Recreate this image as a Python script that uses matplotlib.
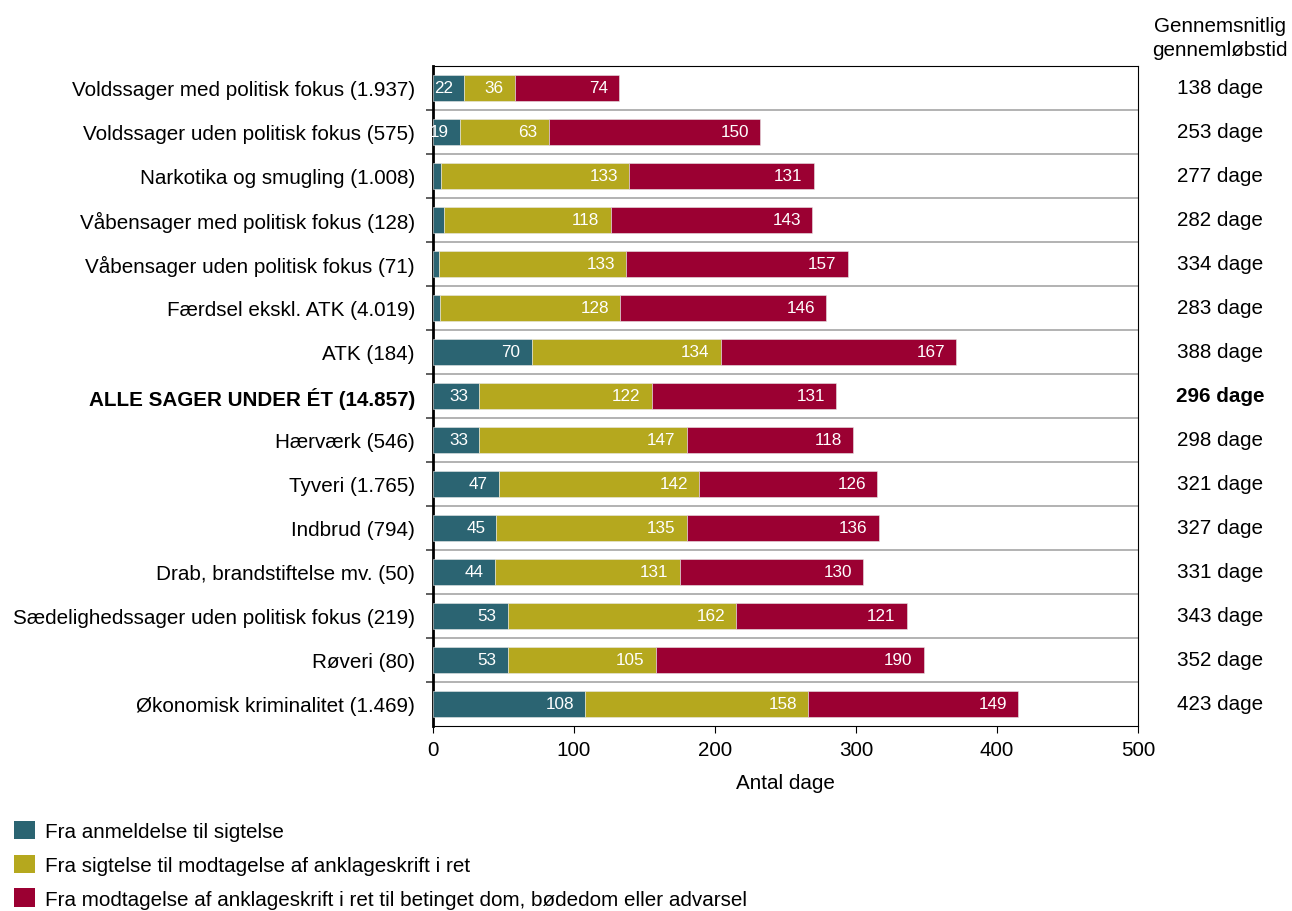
import matplotlib
matplotlib.use("Agg")
import matplotlib.pyplot as plt
import matplotlib.transforms as mtransforms
from matplotlib.patches import Patch
import numpy as np

plt.rcParams['font.family'] = ['Liberation Sans', 'DejaVu Sans']

# data, top row first
categories = [
    "Voldssager med politisk fokus (1.937)",
    "Voldssager uden politisk fokus (575)",
    "Narkotika og smugling (1.008)",
    "Våbensager med politisk fokus (128)",
    "Våbensager uden politisk fokus (71)",
    "Færdsel ekskl. ATK (4.019)",
    "ATK (184)",
    "ALLE SAGER UNDER ÉT (14.857)",
    "Hærværk (546)",
    "Tyveri (1.765)",
    "Indbrud (794)",
    "Drab, brandstiftelse mv. (50)",
    "Sædelighedssager uden politisk fokus (219)",
    "Røveri (80)",
    "Økonomisk kriminalitet (1.469)",
]
anmeldelse = [22, 19, 6, 8, 4, 5, 70, 33, 33, 47, 45, 44, 53, 53, 108]
sigtelse = [36, 63, 133, 118, 133, 128, 134, 122, 147, 142, 135, 131, 162, 105, 158]
dom = [74, 150, 131, 143, 157, 146, 167, 131, 118, 126, 136, 130, 121, 190, 149]
gennemloeb = [138, 253, 277, 282, 334, 283, 388, 296, 298, 321, 327, 331, 343, 352, 423]
bold_row = "ALLE SAGER UNDER ÉT (14.857)"

series_names = [
    "Fra anmeldelse til sigtelse",
    "Fra sigtelse til modtagelse af anklageskrift i ret",
    "Fra modtagelse af anklageskrift i ret til betinget dom, bødedom eller advarsel",
]
colors = ["#2b6472", "#b5a81e", "#9b0032"]
fs = 14.9

fig = plt.figure(figsize=(12.92, 9.12), dpi=100)
ax = fig.add_axes([0.3351, 0.2029, 0.5457, 0.7237])

y = np.arange(len(categories))
left = np.zeros(len(categories))
for vals, col in zip([anmeldelse, sigtelse, dom], colors):
    vals = np.array(vals)
    bars = ax.barh(y, vals, left=left, height=0.6, color=col,
                   edgecolor="#e8e8e8", linewidth=0.4, zorder=3)
    for b, v in zip(bars, vals):
        if v < 10:
            continue
        ax.annotate(str(v), (b.get_x() + b.get_width(), b.get_y() + b.get_height() / 2),
                    xytext=(-8, 0), textcoords="offset points",
                    ha="right", va="center", color="white", fontsize=12.3, zorder=4)
    left = left + vals

ax.set_ylim(len(categories) - 0.5, -0.5)
ax.set_xlim(0, 500)
ax.set_xticks([0, 100, 200, 300, 400, 500])
ax.tick_params(axis="x", labelsize=fs, length=5, direction="out", pad=5)
ax.set_xlabel("Antal dage", fontsize=fs, labelpad=10)

# row labels, separators
ax.set_yticks(y)
ax.set_yticklabels(categories, fontsize=fs)
ax.tick_params(axis="y", which="major", length=0, pad=13)
for lab in ax.get_yticklabels():
    if lab.get_text() == bold_row:
        lab.set_fontweight("bold")
ax.set_yticks(np.arange(0.5, len(categories) - 1, 1), minor=True)
ax.tick_params(axis="y", which="minor", length=5, width=1.2, color="#444444")
for b in np.arange(0.5, len(categories) - 1, 1):
    ax.axhline(b, color="#a6a6a6", linewidth=1.2, zorder=1)

ax.spines["left"].set_linewidth(2)
for s in ["top", "right", "bottom"]:
    ax.spines[s].set_linewidth(0.8)

# right-hand column
trans = mtransforms.blended_transform_factory(fig.transFigure, ax.transData)
for yi, d, cat in zip(y, gennemloeb, categories):
    ax.text(0.9445, yi, f"{d} dage", transform=trans, ha="center", va="center",
            fontsize=fs, fontweight="bold" if cat == bold_row else "normal")
fig.text(0.9445, 0.958, "Gennemsnitlig\ngennemløbstid", ha="center", va="center",
         fontsize=fs, linespacing=1.3)

handles = [Patch(facecolor=c, edgecolor="none") for c in colors]
fig.legend(handles, series_names, loc="upper left", bbox_to_anchor=(0.011, 0.099),
           frameon=False, fontsize=fs, handlelength=1.0, handleheight=1.0,
           handletextpad=0.5, labelspacing=0.65, borderaxespad=0, borderpad=0)

fig.savefig("out.png", dpi=100)
